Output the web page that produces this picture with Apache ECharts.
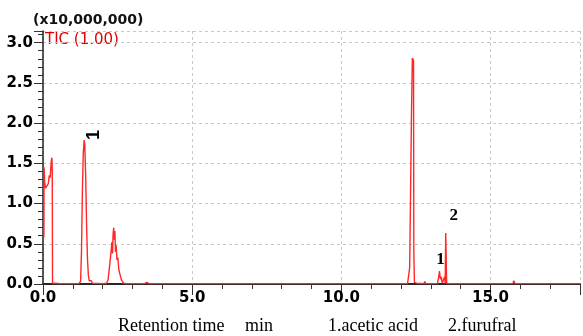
<!DOCTYPE html>
<html><head><meta charset="utf-8">
<script src="https://cdn.jsdelivr.net/npm/echarts@6/dist/echarts.min.js"></script>
<style>html,body{margin:0;padding:0;background:#fff}#c{width:583px;height:336px}</style>
</head><body><div id="c"></div>
<script>
// Retention time (min)
const times = [0.03,0.035,0.06,0.09,0.14,0.18,0.21,0.24,0.28,0.30,0.31,0.32,0.33,0.40,0.60,0.90,1.20,1.26,1.29,1.32,1.35,1.38,1.40,1.43,1.46,1.49,1.52,1.55,1.58,1.62,1.66,2.00,2.13,2.18,2.24,2.28,2.31,2.33,2.35,2.37,2.39,2.41,2.43,2.45,2.48,2.51,2.54,2.58,2.63,2.70,2.80,3.40,3.48,3.55,5.00,7.00,9.55,9.60,9.65,11.00,12.22,12.27,12.29,12.32,12.35,12.38,12.42,12.43,12.45,12.52,12.77,12.80,12.83,13.22,13.26,13.29,13.32,13.35,13.38,13.44,13.46,13.48,13.50,13.53,13.60,15.75,15.78,15.82,17.45,17.50,17.55,18.00];
// TIC intensity (x10,000,000)
const intensity = [0.58,1.45,1.25,1.19,1.19,1.25,1.35,1.32,1.54,1.57,1.40,0.01,0.01,0.01,0.005,0.005,0.005,0.03,0.40,1.15,1.62,1.79,1.74,1.35,0.75,0.32,0.11,0.04,0.03,0.04,0.01,0.005,0.01,0.05,0.25,0.40,0.52,0.38,0.62,0.70,0.55,0.66,0.40,0.48,0.30,0.33,0.18,0.12,0.05,0.01,0.005,0.005,0.02,0.005,0.005,0.005,0.005,0.02,0.005,0.005,0.005,0.02,0.20,1.10,2.08,2.81,2.78,0.40,0.02,0.01,0.005,0.03,0.005,0.005,0.08,0.16,0.06,0.09,0.01,0.01,0.09,0.01,0.635,0.01,0.005,0.005,0.04,0.005,0.005,0.02,0.005,0.005];
// Peak annotations
const peakTimes = [1.38, 13.29, 13.50];
const peakValues = [1.79, 0.16, 0.635];
const peakLabels = ['1', '1', '2'];
// Axis ticks
const xTickLabels = ['0.0','5.0','10.0','15.0'];
const yTickLabels = ['0.0','0.5','1.0','1.5','2.0','2.5','3.0'];
const unitLabel = '(x10,000,000)';
const seriesLabel = 'TIC (1.00)';
const footer = ['Retention time', 'min', '1.acetic acid', '2.furufral'];

const data = times.map((t, i) => [t, intensity[i]]);
const chart = echarts.init(document.getElementById('c'), null, {renderer: 'canvas'});
const tickFont = {fontFamily: 'DejaVu Sans', fontWeight: 'bold', fontSize: 15, color: '#000'};
const dash = {color: '#c8c8c8', type: [3, 3], width: 1};

const option = {
  animation: false,
  grid: {left: 43, right: 0, top: 31, bottom: 52},
  xAxis: [
    {type: 'value', min: 0, max: 18, interval: 5,
     axisLine: {onZero: false, lineStyle: {color: '#808080', width: 1.5}},
     axisTick: {length: 11, lineStyle: {color: '#333', width: 1}},
     axisLabel: Object.assign({margin: 7, formatter: v => { const i = Math.round(v / 5); return (Math.abs(v - i * 5) < 1e-6 && i < xTickLabels.length) ? xTickLabels[i] : ''; }}, tickFont),
     splitLine: {show: true, lineStyle: dash}},
    {type: 'value', min: 0, max: 18, interval: 1, position: 'bottom',
     axisLine: {show: false}, axisTick: {length: 5, lineStyle: {color: '#333', width: 1}},
     axisLabel: {show: false}, splitLine: {show: false}},
    {type: 'value', min: 0, max: 18, position: 'top',
     axisLine: {show: true, lineStyle: {color: '#000', width: 1.5}}, axisTick: {show: false},
     axisLabel: {show: false}, splitLine: {show: false}}
  ],
  yAxis: [
    {type: 'value', min: 0, max: 3.145, interval: 0.5,
     axisLine: {show: true, lineStyle: {color: '#222', width: 1.5}},
     axisTick: {show: true, length: 9, lineStyle: {color: '#333'}},
     axisLabel: Object.assign({margin: 10, formatter: v => { const i = Math.round(v * 2); return (Math.abs(v * 2 - i) < 1e-6 && i < yTickLabels.length) ? yTickLabels[i] : ''; }}, tickFont),
     splitLine: {show: true, lineStyle: dash}},
    {type: 'value', min: 0, max: 3.145, interval: 0.1, position: 'left',
     axisLine: {show: false}, axisTick: {show: true, length: 5, lineStyle: {color: '#333'}},
     axisLabel: {show: false}, splitLine: {show: false}}
  ],
  graphic: [
    {type: 'text', x: 33, y: 20, style: {text: unitLabel, font: 'bold 14px "DejaVu Sans"', fill: '#111', verticalAlign: 'middle', textVerticalAlign: 'middle'}},
    {type: 'text', x: 45, y: 40, style: {text: seriesLabel, font: '15px "DejaVu Sans"', fill: '#e00000', verticalAlign: 'middle', textVerticalAlign: 'middle'}},
    {type: 'text', x: 118, y: 326, style: {text: footer[0], font: '18px "Liberation Serif"', fill: '#000', verticalAlign: 'middle', textVerticalAlign: 'middle'}},
    {type: 'text', x: 245, y: 326, style: {text: footer[1], font: '18px "Liberation Serif"', fill: '#000', verticalAlign: 'middle', textVerticalAlign: 'middle'}},
    {type: 'text', x: 328, y: 326, style: {text: footer[2], font: '18px "Liberation Serif"', fill: '#000', verticalAlign: 'middle', textVerticalAlign: 'middle'}},
    {type: 'text', x: 448, y: 326, style: {text: footer[3], font: '18px "Liberation Serif"', fill: '#000', verticalAlign: 'middle', textVerticalAlign: 'middle'}}
  ],
  series: [{
    type: 'line', xAxisIndex: 0, yAxisIndex: 0, data: data,
    showSymbol: false, symbol: 'none', z: 3,
    lineStyle: {color: 'rgb(255,40,40)', width: 1.4},
    markPoint: {
      symbol: 'circle', symbolSize: 0, silent: true,
      data: [
        {coord: [peakTimes[0], peakValues[0]], label: {show: true, formatter: peakLabels[0], rotate: 90, offset: [5, 10], position: 'inside', fontFamily: 'Liberation Sans', fontWeight: 'bold', fontSize: 18, color: '#000'}},
        {coord: [peakTimes[1], peakValues[1]], label: {show: true, formatter: peakLabels[1], offset: [1, -12], position: 'inside', fontFamily: 'Liberation Serif', fontWeight: 'bold', fontSize: 17, color: '#000'}},
        {coord: [peakTimes[2], peakValues[2]], label: {show: true, formatter: peakLabels[2], offset: [8, -17], position: 'inside', fontFamily: 'Liberation Serif', fontWeight: 'bold', fontSize: 17, color: '#000'}}
      ]
    }
  }]
};
chart.setOption(option);
</script></body></html>
